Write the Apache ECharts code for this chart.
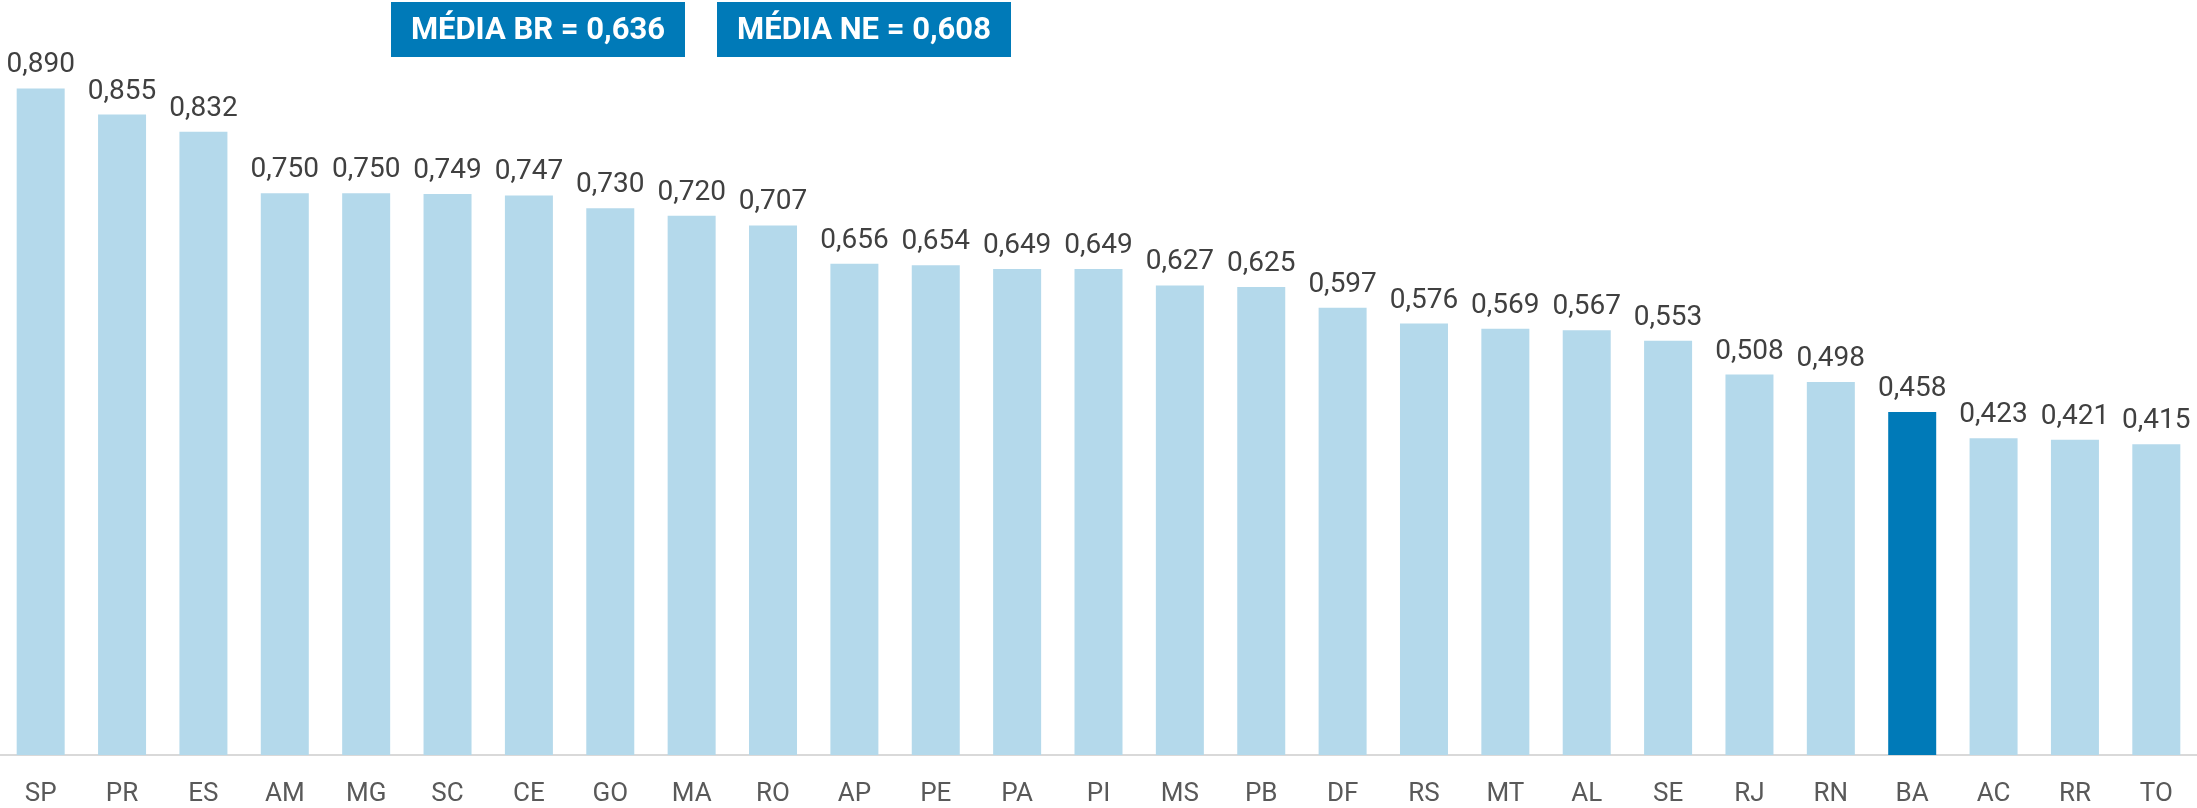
<!DOCTYPE html>
<html>
<head>
<meta charset="utf-8">
<script src="https://cdn.jsdelivr.net/npm/echarts@6/dist/echarts.min.js"></script>
<style>
  html, body { margin: 0; padding: 0; background: #fff; }
  #chart { width: 2197px; height: 808px; }
</style>
</head>
<body>
<div id="chart"></div>
<script>
// estados, ordenados pelo valor
const estados = ['SP', 'PR', 'ES', 'AM', 'MG', 'SC', 'CE', 'GO', 'MA', 'RO', 'AP', 'PE', 'PA', 'PI',
  'MS', 'PB', 'DF', 'RS', 'MT', 'AL', 'SE', 'RJ', 'RN', 'BA', 'AC', 'RR', 'TO'];
const valores = [0.890, 0.855, 0.832, 0.750, 0.750, 0.749, 0.747, 0.730, 0.720, 0.707, 0.656, 0.654, 0.649, 0.649,
  0.627, 0.625, 0.597, 0.576, 0.569, 0.567, 0.553, 0.508, 0.498, 0.458, 0.423, 0.421, 0.415];
const destaque = 'BA';
const mediaBR = 0.636;
const mediaNE = 0.608;

const corBarra = '#b4d9eb';
const corDestaque = '#007ab8';
const corCaixa = '#007ab8';

const fmt = (v) => v.toFixed(3).replace('.', ',');

const chart = echarts.init(document.getElementById('chart'));

const dados = valores.map((v, i) => ({
  value: v,
  itemStyle: { color: estados[i] === destaque ? corDestaque : corBarra }
}));

// caixa com a média
const caixa = (x, texto) => ({
  type: 'group',
  left: x,
  top: 2,
  children: [
    { type: 'rect', shape: { x: 0, y: 0, width: 294, height: 55 }, style: { fill: corCaixa } },
    {
      type: 'text',
      x: 147,
      y: 29,
      style: {
        text: texto,
        fill: '#fff',
        font: 'bold 31px Roboto',
        align: 'center',
        verticalAlign: 'middle'
      }
    }
  ]
});

chart.setOption({
  animation: false,
  grid: { left: 0, right: 0, top: 6, bottom: 53, containLabel: false },
  xAxis: {
    type: 'category',
    data: estados,
    axisLine: { lineStyle: { color: '#d9d9d9', width: 2 } },
    axisTick: { show: false },
    axisLabel: {
      interval: 0,
      color: '#595959',
      fontFamily: 'Roboto',
      fontSize: 26,
      margin: 26
    }
  },
  yAxis: {
    type: 'value',
    min: 0,
    max: 1,
    show: false
  },
  series: [{
    type: 'bar',
    data: dados,
    barWidth: 48,
    label: {
      show: true,
      position: 'top',
      distance: 9,
      color: '#404040',
      fontFamily: 'Roboto',
      fontSize: 28,
      formatter: (p) => fmt(p.value)
    }
  }],
  graphic: [
    caixa(391, 'MÉDIA BR = ' + fmt(mediaBR)),
    caixa(717, 'MÉDIA NE = ' + fmt(mediaNE))
  ]
});
</script>
</body>
</html>
